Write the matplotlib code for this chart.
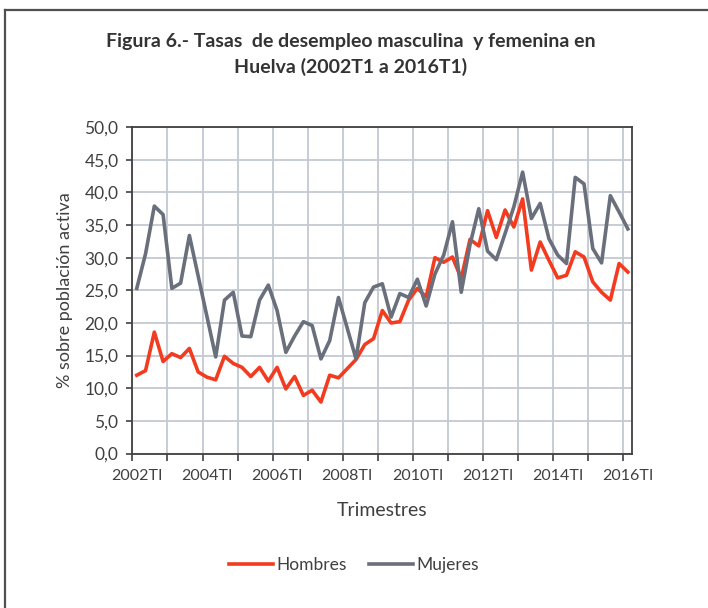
import matplotlib
matplotlib.use("Agg")
import matplotlib.pyplot as plt
from matplotlib.lines import Line2D
import numpy as np

# Tasas de desempleo por trimestre, 2002T1 .. 2016T1 (57 trimestres)
hombres = [
    12.0, 12.7, 18.6, 14.1, 15.3, 14.7, 16.1, 12.5, 11.7, 11.3,
    14.9, 13.8, 13.2, 11.8, 13.2, 11.1, 13.2, 9.9, 11.8, 8.9,
    9.7, 7.9, 12.0, 11.6, 13.0, 14.4, 16.7, 17.6, 21.9, 20.0,
    20.2, 23.5, 25.3, 24.0, 30.0, 29.3, 30.1, 26.8, 32.8, 31.8,
    37.2, 33.1, 37.3, 34.7, 39.0, 28.1, 32.4, 29.6, 26.9, 27.3,
    30.9, 30.1, 26.3, 24.7, 23.5, 29.1, 27.8,
]
mujeres = [
    25.3, 30.6, 37.9, 36.6, 25.3, 26.1, 33.4, 27.2, 21.0, 14.8,
    23.5, 24.7, 18.0, 17.9, 23.5, 25.8, 21.9, 15.5, 18.0, 20.2,
    19.6, 14.5, 17.3, 23.9, 19.2, 14.5, 23.1, 25.5, 26.0, 20.9,
    24.5, 23.9, 26.7, 22.6, 27.5, 30.4, 35.5, 24.7, 32.0, 37.5,
    31.0, 29.7, 33.7, 37.8, 43.1, 36.0, 38.3, 32.9, 30.4, 29.1,
    42.3, 41.3, 31.4, 29.2, 39.5, 37.0, 34.4,
]
etiquetas_x = ["2002TI", "2004TI", "2006TI", "2008TI",
               "2010TI", "2012TI", "2014TI", "2016TI"]

TXT = "#404040"
plt.rcParams["font.family"] = ["Lato", "DejaVu Sans"]

fig = plt.figure(figsize=(7.08, 6.08), dpi=100)
ax = fig.add_axes([0.187, 0.254, 0.706, 0.537])

x = np.arange(len(hombres))
ax.plot(x, hombres, color="#F23B1F", lw=2.6, label="Hombres", zorder=3)
ax.plot(x, mujeres, color="#6A6F7C", lw=2.6, label="Mujeres", zorder=3)

ax.set_xlim(-0.5, len(hombres) - 0.5)
ax.set_ylim(0, 50)
ax.set_yticks(np.arange(0, 51, 5))
ax.set_yticklabels([f"{v:.1f}".replace(".", ",") for v in np.arange(0, 51, 5)])

ax.set_xticks(np.arange(-0.5, len(hombres) - 1, 4))
ax.set_xticklabels([])
ax.set_xticks(np.arange(0, len(hombres), 8), minor=True)
ax.set_xticklabels(etiquetas_x, minor=True)
ax.tick_params(axis="x", which="minor", length=0, pad=11, labelsize=11.5)
ax.tick_params(axis="x", which="major", length=5, width=1.2, color=TXT)
ax.tick_params(axis="y", length=4, width=1.2, color=TXT, pad=6, labelsize=12.5)
ax.tick_params(labelcolor=TXT, which="both")

ax.grid(True, which="major", color="#C4C8D2", lw=1.3, zorder=0)
for s in ax.spines.values():
    s.set_color(TXT)
    s.set_linewidth(1.3)

ax.set_xlabel("Trimestres", fontsize=14, color=TXT, labelpad=14)
ax.set_ylabel("% sobre población activa", fontsize=13, color=TXT, labelpad=8)

fig.text(0.495, 0.931, "Figura 6.- Tasas  de desempleo masculina  y femenina en",
         ha="center", va="center", fontsize=14, fontweight="bold", color="#333333")
fig.text(0.495, 0.890, "Huelva (2002T1 a 2016T1)",
         ha="center", va="center", fontsize=14, fontweight="bold", color="#333333")

fig.legend(loc="center", bbox_to_anchor=(0.5, 1 - 565 / 608), ncol=2,
           frameon=False, fontsize=12.5, handlelength=2.5, handletextpad=0.2,
           columnspacing=1.3, labelcolor=TXT)

# marco exterior (solo borde superior e izquierdo visibles)
y_top = 1 - 10 / 608
x_left = 5 / 708
fig.add_artist(Line2D([x_left, 1], [y_top, y_top], color="#505050", lw=1.6))
fig.add_artist(Line2D([x_left, x_left], [0, y_top], color="#505050", lw=1.6))

fig.savefig("out.png", dpi=100)
